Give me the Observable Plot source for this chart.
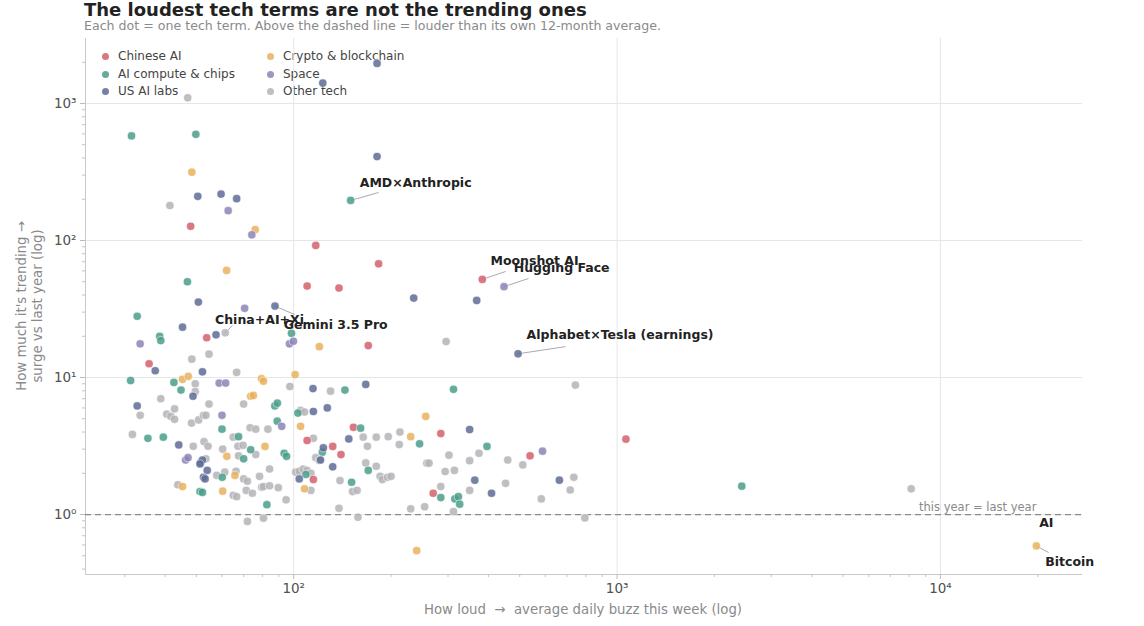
<!DOCTYPE html>
<html><head><meta charset="utf-8">
<script src="https://cdn.jsdelivr.net/npm/d3@7"></script>
<script src="https://cdn.jsdelivr.net/npm/@observablehq/plot@0.6"></script>
<style>
body{margin:0;background:#fff;font-family:"DejaVu Sans",sans-serif;}
#wrap{position:relative;width:1144px;height:626px;overflow:hidden;background:#fff}
#title{position:absolute;left:84px;top:1px;font-size:18px;font-weight:bold;color:#222;line-height:18px;white-space:nowrap}
#sub{position:absolute;left:84px;top:20px;font-size:12.6px;color:#8a8a8a;line-height:12px;white-space:nowrap}
#chart{position:absolute;left:0;top:34px;z-index:1}
.lg{position:absolute;font-size:12px;color:#444;white-space:nowrap;line-height:14px;z-index:0}
.lg i{position:absolute;left:-16px;top:4px;width:7px;height:7px;border-radius:50%;opacity:0.85}
#xl{position:absolute;left:583px;top:609px;transform:translate(-50%,-50%);font-size:13.3px;color:#8a8a8a;white-space:pre}
#yl{position:absolute;left:30px;top:306px;transform:translate(-50%,-50%) rotate(-90deg);font-size:13.3px;color:#8a8a8a;white-space:nowrap;text-align:center;line-height:16px}
</style></head>
<body><div id="wrap">
<div id="title">The loudest tech terms are not the trending ones</div>
<div id="sub">Each dot = one tech term. Above the dashed line = louder than its own 12-month average.</div>
<div id="xl">How loud  →  average daily buzz this week (log)</div>
<div id="yl">How much it's trending →<br>surge vs last year (log)</div>
</div>
<script>
const categories = ["Chinese AI","AI compute & chips","US AI labs","Crypto & blockchain","Space","Other tech"];
const colors = ["#d4606b","#4a9e8b","#5d6b95","#e8b25e","#8c84b6","#b4b4b8"];

// [average daily buzz this week, surge vs last year]
const chineseAI = [[48,127],[117,92],[183,67.6],[110,46.5],[138,45],[383,52],[53.8,19.5],[170,17.1],[35.7,12.6],[110,3.47],[132,3.14],[140,2.74],[115,1.8],[153,4.33],[285,3.9],[538,2.68],[270,1.43],[1065,3.55]];
const aiCompute = [[31.5,580],[49.8,595],[150,196],[46.9,50],[32.8,28],[38.5,20],[38.8,18.6],[98.4,21],[31.3,9.5],[42.6,9.2],[44.8,8.1],[144,8.1],[87.4,6.2],[89,6.5],[88.9,4.8],[60,4.2],[67.5,3.7],[35.4,3.6],[39.5,3.67],[70,2.55],[73.6,2.97],[93.4,2.8],[95,2.66],[60.1,1.87],[51.3,1.47],[52.2,1.45],[82.6,1.18],[103,5.5],[122.6,2.85],[109,1.96],[151,1.72],[161,4.27],[170,2.1],[312,8.2],[245,3.28],[396,3.14],[285,1.33],[315,1.3],[323,1.35],[326,1.19],[2430,1.61]];
const usLabs = [[181,1960],[123,1410],[181,410],[50.5,210],[59.6,218],[66.6,202],[50.7,35.5],[87.5,33.2],[45.3,23.3],[57.5,20.5],[37.3,11.2],[52.2,11],[114.7,8.3],[167,8.9],[32.8,6.2],[48.8,7.3],[44.1,3.22],[51.6,2.4],[52.2,2.5],[51.3,2.34],[54,2.1],[52.6,1.87],[53.2,1.82],[115,5.65],[127,6.0],[123.5,3.07],[121,2.5],[132,2.23],[104,1.82],[148,3.56],[350,4.17],[363,1.78],[663,1.78],[409,1.43],[235,38],[368,36.5],[494,14.9]];
const crypto = [[48.4,315],[76,120],[62,60.5],[120,16.8],[45.3,9.7],[47.2,10.2],[79.5,9.8],[80.6,9.4],[101,10.5],[73.6,7.3],[75,7.4],[62.1,2.66],[81.5,3.14],[65.8,1.93],[45.3,1.6],[60.3,1.48],[105,4.4],[108,1.54],[256,5.2],[230,3.7],[240,0.545],[19800,0.59]];
const space = [[62.7,165],[74.2,110],[70.5,32],[33.5,17.6],[58.8,9.1],[61.6,9.1],[60,5.3],[91.8,4.4],[46.3,2.5],[47.1,2.6],[97,17.6],[99.8,18.4],[447,46],[588,2.9]];
const otherTech = [[47,1100],[41.4,180],[61.4,21.2],[48.4,13.6],[54.7,14.8],[66.6,10.9],[49.6,9.0],[49.6,7.9],[97.3,8.6],[130,7.95],[38.8,7.0],[70,6.4],[54.7,6.4],[33.5,5.3],[40.5,5.4],[41.7,5.2],[42.8,4.95],[42.8,5.9],[48.3,4.65],[50.8,4.9],[52.6,5.3],[53.5,5.3],[73.3,4.3],[76.3,4.2],[83.2,4.2],[65,3.67],[31.7,3.84],[48.9,3.15],[52.8,3.4],[54.3,3.15],[60.3,3.0],[67.2,3.15],[69.7,3.2],[67.5,2.68],[76.3,2.74],[53.5,2.55],[57.8,1.93],[61.2,2.04],[66.3,2.07],[70,1.82],[71.9,1.75],[78.4,1.9],[84.2,2.15],[79.6,1.58],[80.6,1.6],[84.2,1.62],[89.6,1.57],[43.8,1.65],[65,1.38],[66.6,1.35],[71.3,1.5],[74.5,1.43],[94.7,1.28],[71.9,0.89],[80.6,0.94],[105,5.75],[108,5.6],[115,3.6],[117,2.6],[120,2.48],[101.4,2.04],[104,2.07],[107,2.15],[110,2.1],[113,2.0],[113,1.5],[138,1.11],[139,1.77],[152,1.47],[157,1.5],[158,0.955],[164,3.67],[169,3.15],[180,3.67],[196,3.7],[167,2.38],[180,2.25],[185,1.9],[188,1.8],[195,1.87],[200,1.9],[213,4.0],[212,3.24],[743,8.8],[302,2.71],[258,2.37],[262,2.37],[350,2.47],[374,2.8],[459,2.5],[511,2.3],[294,2.06],[314,2.1],[285,1.6],[452,1.69],[735,1.87],[716,1.51],[350,1.5],[583,1.3],[230,1.1],[254,1.14],[312,1.05],[795,0.945],[296,18.3],[8120,1.54]];

// annotations: label, point, text anchor, connector end
const labelNames = ["AMD×Anthropic","Moonshot AI","Hugging Face","Alphabet×Tesla (earnings)","China+AI+Xi","Gemini 3.5 Pro","AI","Bitcoin"];
const labelPoints = [[150,196],[383,52],[447,46],[494,14.9],[61.4,21.2],[87.5,33.2],null,[19800,0.59]];
const labelPos = [[160,265],[406,70.3],[479,62.5],[525,20.3],[57.1,26.5],[93.1,24.0],[20200,0.874],[21100,0.454]];
const labelLineEnds = [[183,224],[452,59.4],[532,52.8],[693,16.8],[64.7,24],[100.7,28.8],null,[21600,0.528]];

const refLine = 1;
const refLabel = {text: "this year = last year", x: 19800, y: 1.125};

const xDomain = [22.7, 27500];
const yDomain = [0.365, 2980];
const xTicks = [100, 1000, 10000];
const xTickLabels = ["10²","10³","10⁴"];
const yTicks = [1, 10, 100, 1000];
const yTickLabels = ["10⁰","10¹","10²","10³"];

const series = [chineseAI, aiCompute, usLabs, crypto, space, otherTech];
const drawOrder = [5, 0, 1, 2, 3, 4];
const data = drawOrder.flatMap(ci => series[ci].map(([x, y]) => ({x, y, cat: categories[ci]})));

const minor = (dom) => {
  const out = [];
  for (let e = Math.floor(Math.log10(dom[0])); e <= Math.ceil(Math.log10(dom[1])); e++) {
    for (let k = 2; k <= 9; k++) { const v = k * Math.pow(10, e); if (v >= dom[0] && v <= dom[1]) out.push(v); }
  }
  return out;
};
const xMinor = minor(xDomain), yMinor = minor(yDomain);
const xFmt = new Map(xTicks.map((t, i) => [t, xTickLabels[i]]));
const yFmt = new Map(yTicks.map((t, i) => [t, yTickLabels[i]]));

const ann = labelNames.map((n, i) => ({
  name: n,
  px: labelPoints[i] ? labelPoints[i][0] : null, py: labelPoints[i] ? labelPoints[i][1] : null,
  tx: labelPos[i][0], ty: labelPos[i][1],
  ex: labelLineEnds[i] ? labelLineEnds[i][0] : null, ey: labelLineEnds[i] ? labelLineEnds[i][1] : null
}));
const links = ann.filter(d => d.px != null);

const chart = Plot.plot({
  width: 1144, height: 592,
  marginLeft: 85, marginRight: 62, marginTop: 4, marginBottom: 52,
  style: {fontFamily: "DejaVu Sans, sans-serif", background: "transparent"},
  x: {type: "log", domain: xDomain},
  y: {type: "log", domain: yDomain},
  color: {domain: categories, range: colors},
  marks: [
    Plot.gridX(xTicks, {stroke: "#e6e6e6", strokeOpacity: 1}),
    Plot.gridY(yTicks, {stroke: "#e6e6e6", strokeOpacity: 1}),
    Plot.ruleX([xDomain[0]], {stroke: "#c9c9c9"}),
    Plot.ruleY([yDomain[0]], {stroke: "#c9c9c9"}),
    Plot.axisX(xTicks, {tickSize: 5, tickPadding: 4, fontSize: 13.5, stroke: "#bbb", fill: "#505050", tickFormat: d => xFmt.get(d), label: null}),
    Plot.axisX(xMinor, {tickSize: 3, stroke: "#c4c4c4", tickFormat: () => "", label: null}),
    Plot.axisY(yTicks, {tickSize: 5, tickPadding: 4, fontSize: 13.5, stroke: "#bbb", fill: "#505050", tickFormat: d => yFmt.get(d), label: null}),
    Plot.axisY(yMinor, {tickSize: 3, stroke: "#c4c4c4", tickFormat: () => "", label: null}),
    Plot.ruleY([refLine], {stroke: "#8a8a8a", strokeWidth: 1.3, strokeDasharray: "6,4"}),
    Plot.text([refLabel], {x: "x", y: "y", text: "text", textAnchor: "end", fill: "#8a8a8a", fontSize: 11.5}),
    Plot.link(links, {x1: "px", y1: "py", x2: "ex", y2: "ey", stroke: "#a9a9b6", strokeWidth: 1}),
    Plot.dot(data, {x: "x", y: "y", fill: "cat", r: 4.1, fillOpacity: 0.85, stroke: "white", strokeWidth: 0.5}),
    Plot.text(ann, {x: "tx", y: "ty", text: "name", textAnchor: "start", fontWeight: "bold", fontSize: 12.5, fill: "#222"})
  ]
});
chart.id = "chart";
const wrap = document.getElementById("wrap");
wrap.appendChild(chart);

categories.forEach((c, i) => {
  const col = Math.floor(i / 3), row = i % 3;
  const el = document.createElement("div");
  el.className = "lg";
  el.style.left = (118 + col * 165) + "px";
  el.style.top = (49 + row * 17.5) + "px";
  el.innerHTML = `<i style="background:${colors[i]}"></i>` + c.replace(/&/g, "&amp;");
  wrap.appendChild(el);
});
</script>
</body></html>
